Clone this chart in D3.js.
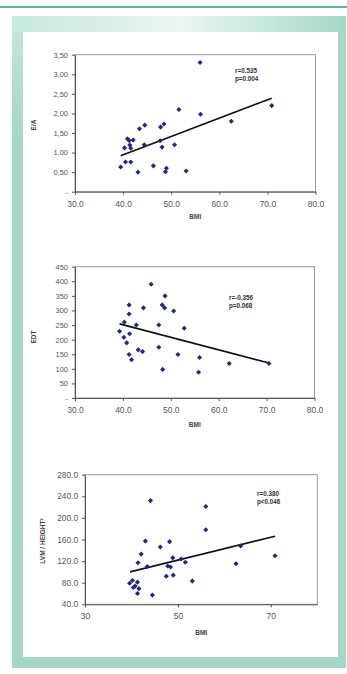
<!DOCTYPE html>
<html lang="en">
<head>
	<meta charset="utf-8">
	<title>BMI correlations</title>
	<script src="https://cdn.jsdelivr.net/npm/d3@7"></script>
	<style>
		body { margin: 0; background: #fff; }
		svg { display: block; font-family: "Liberation Sans", Arial, sans-serif; }
		.tick text { fill: #555; }
		.tick line { stroke: #555; }
		.domain { stroke: #555; }
		.frame { fill: #fff; stroke: #999; stroke-width: 1; }
		.dot { fill: #1d2a7c; }
		.trend { stroke: #111; stroke-width: 1.6; fill: none; }
		.axis-title { font-weight: bold; font-size: 6.5px; fill: #444; }
		.note { font-weight: bold; font-size: 6.3px; fill: #333; }
	</style>
</head>
<body>
	<div id="chart"></div>

	<script>
		// E/A vs BMI
		var bmiEA = [56.0, 51.6, 56.1, 70.9, 62.5, 44.5, 43.4, 47.8, 48.5, 40.9, 41.3, 42.1, 47.7, 40.3,
		             41.4, 41.6, 44.4, 48.1, 50.7, 39.5, 40.5, 41.6, 46.3, 43.1, 48.8, 49.0, 53.1];
		var ea    = [3.30, 2.10, 1.98, 2.20, 1.80, 1.70, 1.61, 1.65, 1.73, 1.35, 1.30, 1.32, 1.30, 1.12,
		             1.19, 1.11, 1.20, 1.14, 1.20, 0.63, 0.76, 0.76, 0.66, 0.50, 0.51, 0.60, 0.53];
		var trendEAx = [39.5, 70.9], trendEAy = [0.92, 2.39];

		// EDT vs BMI
		var bmiEDT = [45.9, 48.8, 41.3, 48.2, 48.7, 44.3, 41.3, 50.6, 40.3, 42.8, 47.5, 52.8, 39.3, 41.4,
		              40.2, 40.8, 47.5, 43.2, 44.1, 41.3, 51.5, 41.8, 56.0, 62.2, 70.5, 48.3, 55.8];
		var edt    = [390, 350, 319, 319, 309, 309, 288, 298, 260, 250, 250, 239, 229, 220,
		              208, 189, 174, 165, 159, 149, 149, 131, 139, 118, 118, 98, 88];
		var trendEDTx = [39.3, 70.5], trendEDTy = [254, 120];

		// LVM / height vs BMI
		var bmiLVM = [44.1, 56.0, 56.0, 43.0, 48.2, 46.2, 63.5, 42.1, 70.9, 48.9, 50.7, 51.6, 41.4, 62.5,
		              43.4, 47.8, 48.4, 49.0, 47.5, 53.1, 40.2, 39.6, 41.3, 40.8, 40.4, 41.6, 41.3, 44.5];
		var lvm    = [232, 221, 178, 157, 156, 146, 148, 133, 130, 126, 124, 118, 117, 115,
		              110, 111, 109, 94, 92, 83, 84, 79, 81, 74, 71, 69, 60, 57];
		var trendLVMx = [39.7, 70.9], trendLVMy = [100, 166];

		// tick labels
		var eaTicks  = [0, 0.5, 1, 1.5, 2, 2.5, 3, 3.5];
		var edtTicks = [0, 50, 100, 150, 200, 250, 300, 350, 400, 450];
		var lvmTicks = [40, 80, 120, 160, 200, 240, 280];
		var bmiTicks10 = [30, 40, 50, 60, 70, 80];
		var bmiTicks20 = [30, 50, 70];

		var W = 347, H = 674;

		var svg = d3.select("#chart")
				.append("svg")
				.attr("width", W)
				.attr("height", H);

		// page decoration: teal rule and framed panel
		var defs = svg.append("defs");
		var topGrad = defs.append("linearGradient")
				.attr("id", "topStrip")
				.attr("x1", "0").attr("y1", "0").attr("x2", "1").attr("y2", "0");
		topGrad.append("stop").attr("offset", "0").attr("stop-color", "#c6e7db");
		topGrad.append("stop").attr("offset", "0.5").attr("stop-color", "#ecf6f2");
		topGrad.append("stop").attr("offset", "1").attr("stop-color", "#a4d7c6");
		var leftGrad = defs.append("linearGradient")
				.attr("id", "leftStrip")
				.attr("x1", "0").attr("y1", "0").attr("x2", "0").attr("y2", "1");
		leftGrad.append("stop").attr("offset", "0").attr("stop-color", "#c6e7db");
		leftGrad.append("stop").attr("offset", "1").attr("stop-color", "#a4d7c6");

		svg.append("rect").attr("x", 0).attr("y", 6).attr("width", W).attr("height", 2).attr("fill", "#5cb99b");
		svg.append("rect").attr("x", 12).attr("y", 16).attr("width", 334).attr("height", 652).attr("fill", "#a4d7c6");
		svg.append("rect").attr("x", 12).attr("y", 16).attr("width", 11).attr("height", 120).attr("fill", "url(#leftStrip)");
		svg.append("rect").attr("x", 12).attr("y", 16).attr("width", 334).attr("height", 16).attr("fill", "url(#topStrip)");
		svg.append("rect").attr("x", 23).attr("y", 32).attr("width", 315).attr("height", 625).attr("fill", "#fff");

		var diamond = d3.symbol().type(d3.symbolSquare).size(13);

		function drawChart(o) {
			var x = d3.scaleLinear().domain(o.xDomain).range([o.left, o.right]);
			var y = d3.scaleLinear().domain(o.yDomain).range([o.bottom, o.top]);

			svg.append("rect")
					.attr("class", "frame")
					.attr("x", o.left).attr("y", o.top)
					.attr("width", o.right - o.left).attr("height", o.bottom - o.top);

			var yAxis = svg.append("g")
					.attr("transform", "translate(" + o.left + ",0)")
					.call(d3.axisLeft(y).tickValues(o.yTicks).tickSize(3).tickSizeOuter(0).tickPadding(4).tickFormat(o.yFormat));
			yAxis.selectAll("text").style("font-size", o.yFont + "px");

			var xAxis = svg.append("g")
					.attr("transform", "translate(0," + o.bottom + ")")
					.call(d3.axisBottom(x).tickValues(o.xTicks).tickSize(3).tickSizeOuter(0).tickPadding(6).tickFormat(o.xFormat));
			xAxis.selectAll("text").style("font-size", "8.5px");

			svg.append("line")
					.attr("class", "trend")
					.attr("x1", x(o.trendX[0])).attr("y1", y(o.trendY[0]))
					.attr("x2", x(o.trendX[1])).attr("y2", y(o.trendY[1]));

			svg.selectAll(null)
					.data(o.xs)
				.enter().append("path")
					.attr("class", "dot")
					.attr("d", diamond)
					.attr("transform", function(d, i) { return "translate(" + x(d) + "," + y(o.ys[i]) + ") rotate(45)"; });

			svg.append("text")
					.attr("class", "axis-title")
					.attr("x", (o.left + o.right) / 2)
					.attr("y", o.xTitleY)
					.attr("text-anchor", "middle")
					.text("BMI");

			svg.append("text")
					.attr("class", "axis-title")
					.attr("transform", "translate(" + o.yTitleX + "," + o.yTitleY + ") rotate(-90)")
					.attr("text-anchor", "middle")
					.text(o.yTitle);

			svg.append("text").attr("class", "note").attr("x", o.noteX).attr("y", o.noteY).text(o.note[0]);
			svg.append("text").attr("class", "note").attr("x", o.noteX).attr("y", o.noteY + 8).text(o.note[1]);
		}

		drawChart({
			left: 75, right: 315.5, top: 54.7, bottom: 191.7,
			xDomain: [30, 80], yDomain: [0, 3.5],
			xTicks: bmiTicks10, yTicks: eaTicks, yFont: 7.5,
			xFormat: d3.format(".1f"),
			yFormat: function(d) { return d === 0 ? "-" : d3.format(".2f")(d).replace(".", ","); },
			xs: bmiEA, ys: ea, trendX: trendEAx, trendY: trendEAy,
			xTitleY: 219, yTitle: "E/A", yTitleX: 36, yTitleY: 125,
			note: ["r=0.535", "p=0.004"], noteX: 235, noteY: 73
		});

		drawChart({
			left: 75, right: 314.5, top: 266.7, bottom: 398,
			xDomain: [30, 80], yDomain: [0, 450],
			xTicks: bmiTicks10, yTicks: edtTicks, yFont: 7.5,
			xFormat: d3.format(".1f"),
			yFormat: function(d) { return d === 0 ? "-" : d; },
			xs: bmiEDT, ys: edt, trendX: trendEDTx, trendY: trendEDTy,
			xTitleY: 427, yTitle: "EDT", yTitleX: 36, yTitleY: 337,
			note: ["r=-0.356", "p=0.068"], noteX: 229, noteY: 300
		});

		drawChart({
			left: 85, right: 317.3, top: 474.7, bottom: 604.3,
			xDomain: [30, 80], yDomain: [40, 280],
			xTicks: bmiTicks20, yTicks: lvmTicks, yFont: 8.3,
			xFormat: d3.format("d"),
			yFormat: d3.format(".1f"),
			xs: bmiLVM, ys: lvm, trendX: trendLVMx, trendY: trendLVMy,
			xTitleY: 635, yTitle: "LVM / HEIGHT²", yTitleX: 45, yTitleY: 541,
			note: ["r=0.380", "p<0.046"], noteX: 257, noteY: 496
		});
	</script>
</body>
</html>
